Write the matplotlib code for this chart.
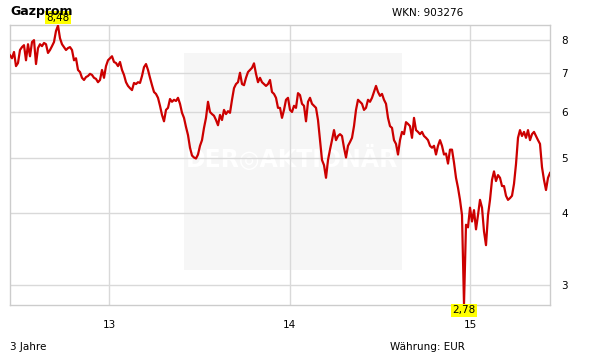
import numpy as np
import pandas as pd
import matplotlib
matplotlib.use("Agg")
import matplotlib.pyplot as plt
from matplotlib.patches import Rectangle

# Gazprom, 3 Jahre, Schlusskurse in EUR
start_date = "2012-06-14"
end_date = "2015-06-12"
prices = [
    7.53, 7.44, 7.63, 7.21, 7.30, 7.69, 7.78, 7.84, 7.38, 7.87,
    7.50, 7.94, 8.00, 7.27, 7.75, 7.87, 7.81, 7.91, 7.87, 7.60,
    7.69, 7.81, 7.94, 8.30, 8.48, 8.06, 7.87, 7.78, 7.69, 7.75,
    7.78, 7.69, 7.38, 7.44, 7.10, 7.04, 6.88, 6.82, 6.90, 6.93,
    6.99, 6.96, 6.88, 6.85, 6.76, 6.82, 7.10, 6.88, 7.21, 7.38,
    7.44, 7.50, 7.33, 7.30, 7.21, 7.33, 7.10, 6.96, 6.76, 6.66,
    6.60, 6.55, 6.74, 6.71, 6.76, 6.74, 6.93, 7.18, 7.27, 7.10,
    6.88, 6.68, 6.50, 6.45, 6.35, 6.15, 5.93, 5.78, 6.05, 6.10,
    6.32, 6.25, 6.30, 6.27, 6.35, 6.20, 5.98, 5.86, 5.65, 5.47,
    5.20, 5.04, 5.00, 4.98, 5.06, 5.24, 5.36, 5.63, 5.86, 6.25,
    6.00, 5.95, 5.91, 5.81, 5.69, 5.93, 5.81, 6.05, 5.95, 6.02,
    5.98, 6.30, 6.60, 6.71, 6.76, 7.02, 6.71, 6.68, 6.88, 7.04,
    7.10, 7.16, 7.29, 6.99, 6.76, 6.88, 6.76, 6.71, 6.66, 6.71,
    6.82, 6.50, 6.45, 6.35, 6.10, 6.10, 5.86, 6.05, 6.30, 6.35,
    6.05, 6.00, 6.15, 6.10, 6.47, 6.42, 6.20, 6.15, 5.78, 6.25,
    6.35, 6.20, 6.15, 6.10, 5.81, 5.36, 4.95, 4.85, 4.61, 4.95,
    5.16, 5.36, 5.58, 5.36, 5.45, 5.49, 5.45, 5.20, 5.00, 5.24,
    5.32, 5.41, 5.67, 6.05, 6.30, 6.25, 6.20, 6.05, 6.10, 6.30,
    6.25, 6.35, 6.50, 6.66, 6.50, 6.40, 6.45, 6.30, 6.20, 5.86,
    5.67, 5.63, 5.36, 5.28, 5.06, 5.36, 5.54, 5.49, 5.76, 5.72,
    5.67, 5.41, 5.86, 5.58, 5.54, 5.49, 5.54, 5.45, 5.41, 5.36,
    5.24, 5.20, 5.24, 5.06, 5.24, 5.36, 5.24, 5.06, 5.08, 4.88,
    5.16, 5.16, 4.90, 4.61, 4.43, 4.22, 3.97, 2.78, 3.82, 3.78,
    4.09, 3.87, 4.05, 3.75, 3.97, 4.22, 4.09, 3.72, 3.52, 3.97,
    4.22, 4.57, 4.73, 4.55, 4.66, 4.61, 4.46, 4.46, 4.29, 4.22,
    4.25, 4.29, 4.50, 4.87, 5.41, 5.58, 5.45, 5.54, 5.41, 5.58,
    5.36, 5.49, 5.54, 5.45, 5.36, 5.28, 4.81, 4.57, 4.39, 4.61,
    4.70,
]
y_ticks = [3, 4, 5, 6, 7, 8]
year_ticks = ["2013-01-01", "2014-01-01", "2015-01-01"]
year_labels = ["13", "14", "15"]

dates = pd.date_range(start_date, end_date, periods=len(prices))
prices = np.array(prices)

fig = plt.figure(figsize=(6.11, 3.64), dpi=100)
ax = fig.add_axes([10 / 611, 59 / 364, 540 / 611, 280 / 364])

# watermark box
ax.add_patch(Rectangle((0.322, 0.125), 0.403, 0.775, transform=ax.transAxes,
                       facecolor="#f6f6f6", edgecolor="none", zorder=0))
ax.text(0.523, 0.52, "DER\u25CEAKTIONÄR", transform=ax.transAxes, color="white",
        fontsize=17, fontweight="bold", ha="center", va="center", zorder=0.5)

ax.plot(dates, prices, color="#cc0000", lw=1.6, zorder=3)

ax.set_yscale("log")
ax.set_ylim(2.77, 8.50)
ax.set_xlim(dates[0], dates[-1])
ax.yaxis.set_major_locator(matplotlib.ticker.FixedLocator(y_ticks))
ax.yaxis.set_minor_locator(matplotlib.ticker.NullLocator())
ax.yaxis.set_major_formatter(matplotlib.ticker.FixedFormatter([str(v) for v in y_ticks]))
ax.yaxis.tick_right()
ax.set_xticks([pd.Timestamp(d) for d in year_ticks])
ax.set_xticklabels(year_labels)
ax.tick_params(axis="both", length=0, labelsize=7.5, colors="black")
ax.tick_params(axis="y", pad=8)
ax.tick_params(axis="x", pad=11)
ax.grid(True, color="#d9d9d9", lw=1, zorder=1)
ax.set_axisbelow(True)
for s in ax.spines.values():
    s.set_color("#cccccc")
    s.set_linewidth(1)

# min / max markers
imax = int(np.argmax(prices))
imin = int(np.argmin(prices))
box = dict(boxstyle="square,pad=0.15", facecolor="#ffff00", edgecolor="none")
ax.annotate(f"{prices[imax]:.2f}".replace(".", ","), (dates[imax], prices[imax]),
            xytext=(0, 2), textcoords="offset points", ha="center", va="bottom",
            fontsize=7.5, bbox=box, zorder=5, annotation_clip=False)
ax.annotate(f"{prices[imin]:.2f}".replace(".", ","), (dates[imin], prices[imin]),
            xytext=(0, -1), textcoords="offset points", ha="center", va="top",
            fontsize=7.5, bbox=box, zorder=5, annotation_clip=False)

fig.text(10 / 611, 1 - 12 / 364, "Gazprom", fontsize=9, fontweight="bold", va="center")
fig.text(392 / 611, 1 - 13 / 364, "WKN: 903276", fontsize=7.5, va="center")
fig.text(10 / 611, 1 - 347 / 364, "3 Jahre", fontsize=7.5, va="center")
fig.text(390 / 611, 1 - 347 / 364, "Währung: EUR", fontsize=7.5, va="center")

fig.savefig("out.png", dpi=100)
